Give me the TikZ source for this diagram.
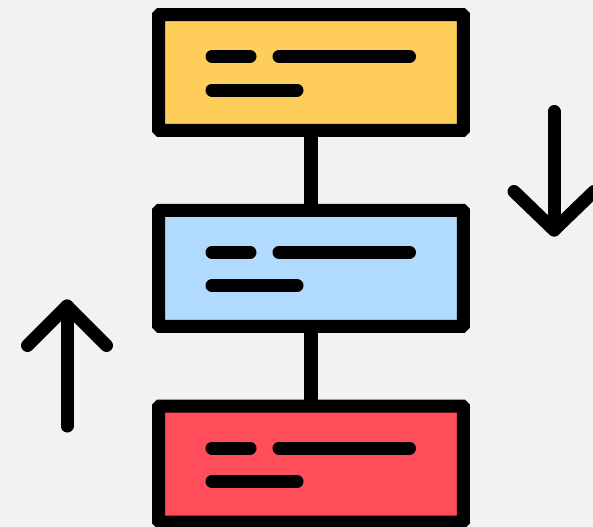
\documentclass[tikz,border=0pt]{standalone}
\usetikzlibrary{calc}
\definecolor{bgcol}{HTML}{F2F2F2}
\definecolor{cardyellow}{HTML}{FFCE5A}
\definecolor{cardblue}{HTML}{B0DAFE}
\definecolor{cardred}{HTML}{FF4D5A}
\begin{document}
\begin{tikzpicture}[x=0.05cm,y=-0.05cm,
  card/.style={draw=black,line width=0.65cm,rounded corners=2pt,minimum width=15.25cm,minimum height=5.8cm,inner sep=0pt},
  bar/.style={line width=0.65cm,line cap=round},
  link/.style={line width=0.7cm},
  flow/.style={line width=0.65cm,line cap=round,line join=round}]
\pgfmathsetmacro{\kcx}{311}
\pgfmathsetmacro{\karm}{40}
\useasboundingbox[fill=bgcol] (0,0) rectangle (593,527);
\foreach \kname/\ky/\kcol in {plan/72.5/cardyellow,build/268.25/cardblue,test/464/cardred}{
  \node[card,fill=\kcol] (\kname) at (\kcx,\ky) {};
  \draw[bar] ($(\kname)+(-99,-16)$) -- ++(38,0);
  \draw[bar] ($(\kname)+(-32,-16)$) -- ++(130.5,0);
  \draw[bar] ($(\kname)+(-99,17.5)$) -- ++(85,0);
}
\draw[link] (plan.south) -- (build.north);
\draw[link] (build.south) -- (test.north);
%\draw[gray,dashed] (plan.north east) rectangle (test.south west);
\coordinate (dtop) at (554,111.5);
\coordinate (dtip) at (554,230);
\draw[flow] (dtop) -- (dtip);
\draw[flow] ($(dtip)+(-\karm,-38.5)$) -- (dtip) -- ($(dtip)+(\karm,-38.5)$);
\coordinate (ubot) at (67,426);
\coordinate (utip) at (67,306);
\draw[flow] (ubot) -- (utip);
\draw[flow] ($(utip)+(-39.5,39.5)$) -- (utip) -- ($(utip)+(39.5,39.5)$);
\end{tikzpicture}
\end{document}
